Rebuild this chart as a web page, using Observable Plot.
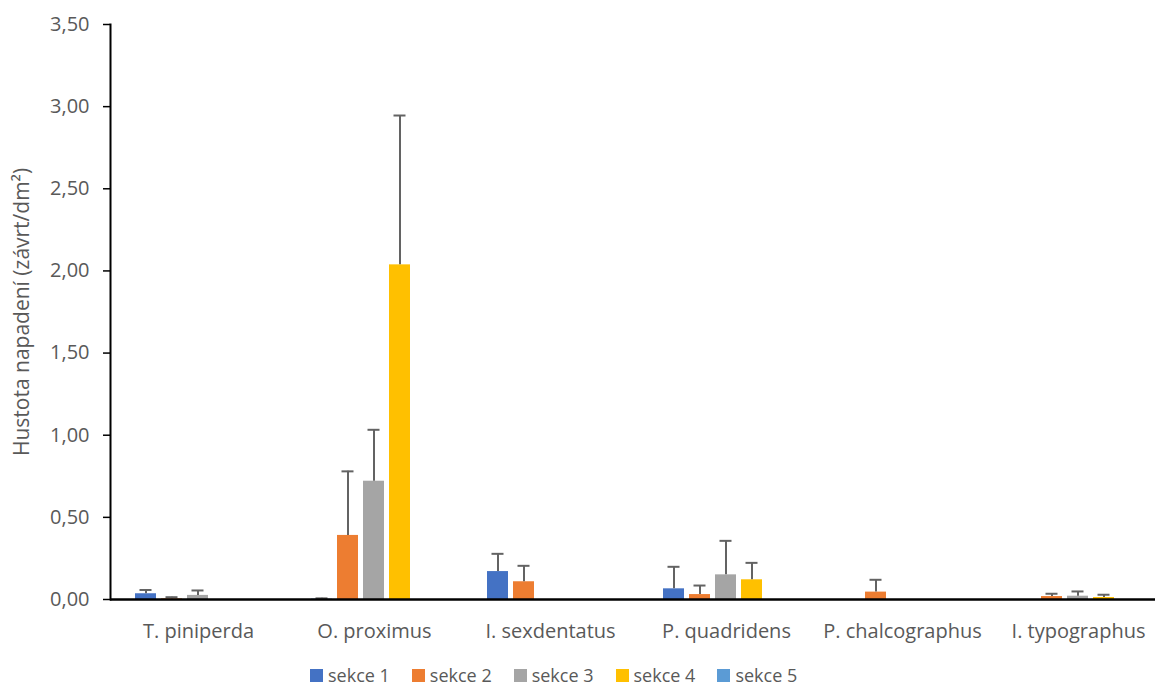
<!DOCTYPE html>
<html>
<head>
<meta charset="utf-8">
<script src="https://cdn.jsdelivr.net/npm/d3@7"></script>
<script src="https://cdn.jsdelivr.net/npm/@observablehq/plot@0.6"></script>
<style>
  html, body { margin: 0; padding: 0; background: #fff; overflow: hidden; }
  #chart { position: relative; width: 1155px; height: 690px; overflow: hidden; font-family: "Open Sans", sans-serif; }
  #chart > svg { display: block; max-width: none !important; }
  #legend { position: absolute; left: 310px; top: 664px; }
  .lg-swatches, .lg-swatches-wrap { font-family: "Open Sans", sans-serif !important; font-size: 18px !important; color: #595959 !important; margin: 0 !important; min-height: 0 !important; line-height: 22px !important; }
  .lg-swatch { margin-right: 22px !important; }
  .lg-swatch > svg { margin-right: 5px !important; }
</style>
</head>
<body>
<div id="chart"><div id="legend"></div></div>
<script>
// Species (categories on the x axis) and sampled stem sections (series)
const categories = ["T. piniperda", "O. proximus", "I. sexdentatus", "P. quadridens", "P. chalcographus", "I. typographus"];
const series = ["sekce 1", "sekce 2", "sekce 3", "sekce 4", "sekce 5"];
const colors = ["#4472C4", "#ED7D31", "#A5A5A5", "#FFC000", "#5B9BD5"];

// Mean attack density (závrt/dm²) per section, one value per species
const sekce1 = [0.035, 0.002, 0.170, 0.065, 0, 0];
const sekce2 = [0.004, 0.390, 0.108, 0.030, 0.045, 0.018];
const sekce3 = [0.025, 0.720, 0, 0.150, 0, 0.020];
const sekce4 = [0, 2.037, 0, 0.120, 0, 0.012];
const sekce5 = [0, 0, 0, 0, 0, 0];

// Upper error (standard deviation) per section
const sekce1Err = [0.023, 0.005, 0.108, 0.134, 0, 0];
const sekce2Err = [0.010, 0.390, 0.097, 0.055, 0.075, 0.017];
const sekce3Err = [0.030, 0.313, 0, 0.207, 0, 0.029];
const sekce4Err = [0, 0.909, 0, 0.103, 0, 0.017];
const sekce5Err = [0, 0, 0, 0, 0, 0];

const yTicks = [0, 0.5, 1, 1.5, 2, 2.5, 3, 3.5];
const yLabel = "Hustota napadení (závrt/dm²)";

const values = [sekce1, sekce2, sekce3, sekce4, sekce5];
const errors = [sekce1Err, sekce2Err, sekce3Err, sekce4Err, sekce5Err];

const rows = [];
series.forEach((s, i) => {
  categories.forEach((c, j) => {
    rows.push({cat: c, series: s, value: values[i][j], err: errors[i][j]});
  });
});
const errRows = rows.filter(d => d.err > 0);

const axisColor = "#595959";
const errColor = "#636363";
const fmt = d => d.toFixed(2).replace(".", ",");

const plot = Plot.plot({
  width: 1166,
  height: 650,
  marginLeft: 109,
  marginRight: 0,
  marginTop: 24,
  marginBottom: 51,
  style: {fontFamily: "'Open Sans', sans-serif", fontSize: "20px", color: axisColor, background: "#fff", overflow: "visible", maxWidth: "none"},
  fx: {domain: categories, padding: 0},
  x: {domain: series, axis: null, paddingInner: 0.19, paddingOuter: 0.92},
  y: {domain: [0, 3.5]},
  color: {domain: series, range: colors},
  marks: [
    Plot.barY(rows, {fx: "cat", x: "series", y: "value", fill: "series"}),
    Plot.ruleX(errRows, {fx: "cat", x: "series", y1: "value", y2: d => d.value + d.err, stroke: errColor, strokeWidth: 2}),
    Plot.tickY(errRows, {fx: "cat", x: "series", y: d => d.value + d.err, stroke: errColor, strokeWidth: 2, insetLeft: 4.5, insetRight: 4.5}),
    Plot.ruleY([0], {stroke: "black", strokeWidth: 2.5}),
    Plot.frame({anchor: "left", facet: "super", stroke: "black", strokeWidth: 2}),
    Plot.axisY({
      ticks: yTicks, tickFormat: fmt, tickSize: 7, tickPadding: 14, stroke: "black", strokeWidth: 1.5,
      fontSize: 20, label: null
    }),
    Plot.axisY({
      ticks: [], label: yLabel, labelAnchor: "center", labelOffset: 96, labelArrow: false, fontSize: 21
    }),
    Plot.axisFx({anchor: "bottom", tickSize: 0, tickPadding: 24, label: null, fontSize: 20})
  ]
});

const chart = document.getElementById("chart");
chart.insertBefore(plot, chart.firstChild);

const legend = Plot.legend({
  color: {domain: series, range: colors},
  legend: "swatches",
  swatchSize: 13,
  className: "lg"
});
document.getElementById("legend").appendChild(legend);
</script>
</body>
</html>
